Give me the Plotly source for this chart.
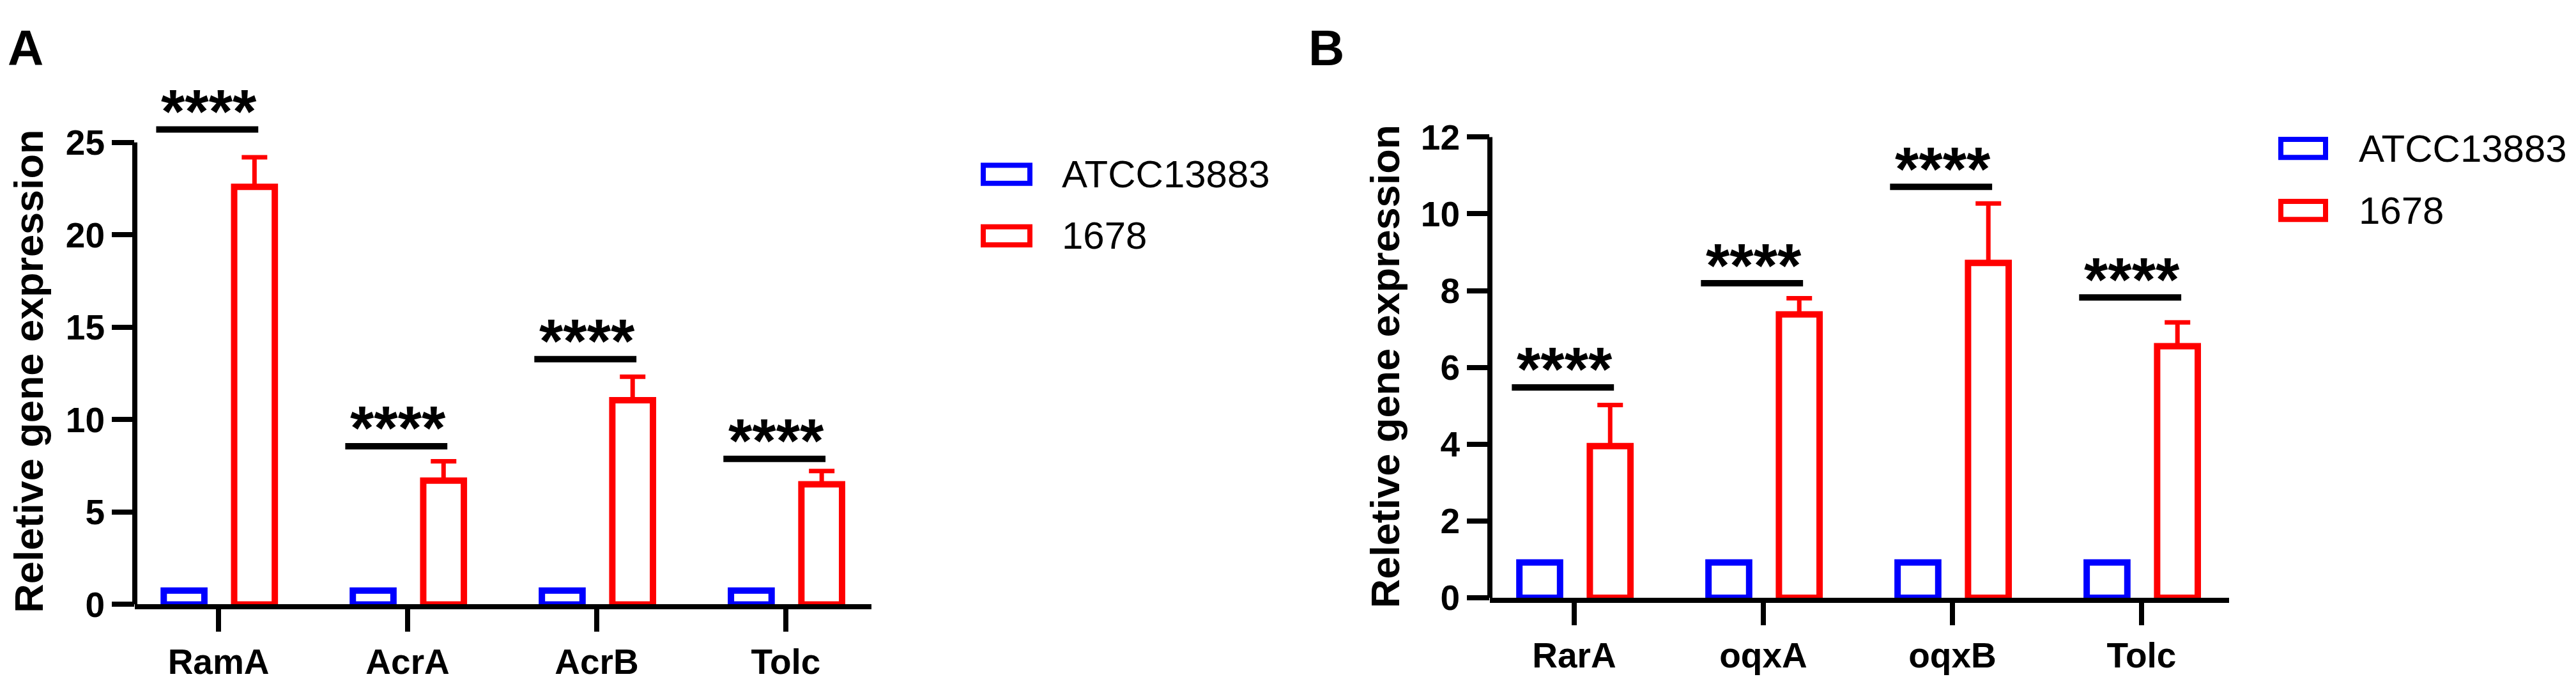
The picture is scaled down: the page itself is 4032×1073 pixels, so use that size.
import plotly.graph_objects as go

# ---------------- data ----------------
genes_a = ["RamA", "AcrA", "AcrB", "Tolc"]
atcc_a = [0.75, 0.75, 0.75, 0.75]
strain_a = [22.6, 6.7, 11.05, 6.5]
err_a = [1.6, 1.05, 1.27, 0.72]
sig_a = [25.7, 8.56, 13.27, 7.88]

genes_b = ["RarA", "oqxA", "oqxB", "Tolc"]
atcc_b = [0.92, 0.92, 0.92, 0.92]
strain_b = [3.95, 7.38, 8.72, 6.55]
err_b = [1.07, 0.42, 1.55, 0.62]
sig_b = [5.48, 8.19, 10.70, 7.82]

stars = ["****", "****", "****", "****"]
series_names = ["ATCC13883", "1678"]
yticks_a = [0, 5, 10, 15, 20, 25]
yticks_b = [0, 2, 4, 6, 8, 10, 12]
ytitle = "Reletive gene expression"

# ---------------- style ----------------
W, H = 4032, 1073
FONT = "Liberation Sans, Arial, sans-serif"
BLUE = "#0000FF"
RED = "#FF0000"
BAR_W = 0.215
OFF_BLUE = -0.29
OFF_RED = 0.0825


def fx(p):
    return p / W


def fy(p):
    return 1 - p / H


fig = go.Figure()

panels = [
    dict(genes=genes_a, atcc=atcc_a, strain=strain_a, err=err_a, sig=sig_a,
         xa="x", ya="y"),
    dict(genes=genes_b, atcc=atcc_b, strain=strain_b, err=err_b, sig=sig_b,
         xa="x2", ya="y2"),
]

for p in panels:
    xs = list(range(len(p["genes"])))
    fig.add_trace(go.Bar(
        x=xs, y=p["atcc"], width=BAR_W, offset=OFF_BLUE, name=series_names[0],
        marker=dict(color="white", line=dict(color=BLUE, width=10)),
        xaxis=p["xa"], yaxis=p["ya"], showlegend=False))
    fig.add_trace(go.Bar(
        x=xs, y=p["strain"], width=BAR_W, offset=OFF_RED, name=series_names[1],
        marker=dict(color="white", line=dict(color=RED, width=10)),
        error_y=dict(type="data", array=p["err"], arrayminus=[0] * len(xs),
                     symmetric=False, color=RED, thickness=7, width=20),
        xaxis=p["xa"], yaxis=p["ya"], showlegend=False))
    # significance bars
    lx, ly = [], []
    for i, h in zip(xs, p["sig"]):
        lx += [i - 0.33, i + 0.21, None]
        ly += [h, h, None]
    fig.add_trace(go.Scatter(x=lx, y=ly, mode="lines",
                             line=dict(color="black", width=10),
                             xaxis=p["xa"], yaxis=p["ya"], showlegend=False,
                             hoverinfo="skip"))
    for i, h, s in zip(xs, p["sig"], stars):
        fig.add_annotation(x=i - 0.05, y=h, xref=p["xa"], yref=p["ya"], text=s,
                           showarrow=False, yanchor="middle", yshift=29,
                           font=dict(family=FONT, size=96, color="black",
                                     weight="bold"))

axis_common = dict(showgrid=False, zeroline=False, ticks="outside",
                   ticklen=35, tickwidth=8, tickcolor="black",
                   tickfont=dict(family=FONT, size=55, color="black",
                                 weight="bold"))

fig.update_layout(
    width=W, height=H,
    margin=dict(l=0, r=0, t=0, b=0),
    paper_bgcolor="white", plot_bgcolor="white",
    barmode="overlay",
    xaxis=dict(domain=[fx(203), fx(1356)], range=[-0.443, 3.453],
               tickvals=list(range(4)), ticktext=genes_a,
               showline=True, linewidth=8, linecolor="black", anchor="y",
               **axis_common),
    yaxis=dict(domain=[fy(962), fy(103)], range=[0, 28],
               tickvals=yticks_a, showline=False, anchor="x", **axis_common),
    xaxis2=dict(domain=[fx(2324), fx(3481)], range=[-0.446, 3.463],
                tickvals=list(range(4)), ticktext=genes_b,
                showline=True, linewidth=8, linecolor="black", anchor="y2",
                **axis_common),
    yaxis2=dict(domain=[fy(951), fy(186)], range=[0, 12],
                tickvals=yticks_b, showline=False, anchor="x2", **axis_common),
)

# y axis lines (stop at top tick)
fig.add_shape(type="line", xref="x domain", yref="y", x0=0, x1=0,
              y0=0, y1=yticks_a[-1], line=dict(color="black", width=8))
fig.add_shape(type="line", xref="x2 domain", yref="y2", x0=0, x1=0,
              y0=0, y1=yticks_b[-1], line=dict(color="black", width=8))

# y axis titles
for xc, yc in [(37, 575), (2160, 567)]:
    fig.add_annotation(x=fx(xc), y=fy(yc), xref="paper", yref="paper",
                       text=ytitle, textangle=-90, showarrow=False,
                       xanchor="center", yanchor="middle",
                       font=dict(family=FONT, size=63, color="black",
                                 weight="bold"))

# panel letters
for letter, xl in [("A", 2), ("B", 2038)]:
    fig.add_annotation(x=fx(xl), y=1, xref="paper", yref="paper", text=letter,
                       showarrow=False, xanchor="left", yanchor="top",
                       yshift=10,
                       font=dict(family=FONT, size=78, color="black",
                                 weight="bold"))

# legends
legend_pos = [(1531, 1604, [248, 350], 1652), (3562, 3632, [205, 308], 3682)]
for x0, x1, ys, xt in legend_pos:
    for yc, col, name in zip(ys, [BLUE, RED], series_names):
        fig.add_shape(type="rect", xref="paper", yref="paper",
                      x0=fx(x0), x1=fx(x1), y0=fy(yc - 15), y1=fy(yc + 15),
                      line=dict(color=col, width=8), fillcolor="white")
        fig.add_annotation(x=fx(xt), y=fy(yc), xref="paper", yref="paper",
                           text=name, showarrow=False, xanchor="left",
                           yanchor="middle",
                           font=dict(family=FONT, size=60, color="black"))

fig.write_html("out.html")
